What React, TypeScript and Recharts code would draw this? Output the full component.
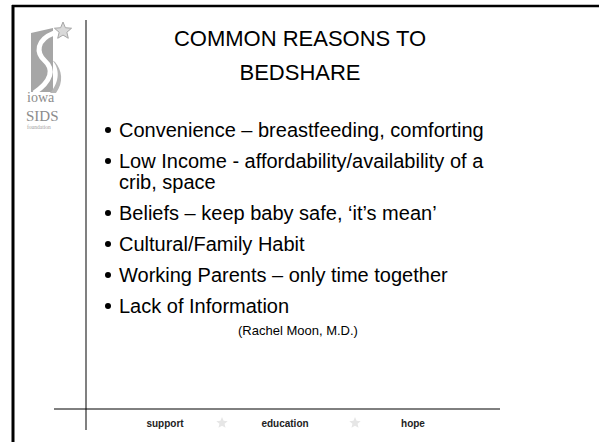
import React from 'react';
import { ScatterChart, Scatter, XAxis, YAxis, Customized } from 'recharts';

// slide content
const titleLines = ['COMMON REASONS TO', 'BEDSHARE'];
const bulletItems = [
  ['Convenience – breastfeeding, comforting'],
  ['Low Income - affordability/availability of a', 'crib, space'],
  ['Beliefs – keep baby safe, ‘it’s mean’'],
  ['Cultural/Family Habit'],
  ['Working Parents – only time together'],
  ['Lack of Information'],
];
const citation = '(Rachel Moon, M.D.)';
const footerWords = ['support', 'education', 'hope'];
const logoWords = ['iowa', 'SIDS', 'foundation'];

const W = 599;
const H = 442;
const FONT = '"Liberation Sans", Arial, Helvetica, sans-serif';
const SERIF = '"Liberation Serif", "DejaVu Serif", serif';

const FIRST_BASELINE = 137;
const ITEM_GAP = 31;
const WRAP_GAP = 21;
const BULLET_X = 108;

// one point per bullet, stacked down the slide
const bulletData = (() => {
  let y = FIRST_BASELINE;
  return bulletItems.map((lines, i) => {
    const row = { x: BULLET_X, y, lines, i };
    y += ITEM_GAP + (lines.length - 1) * WRAP_GAP;
    return row;
  });
})();
const lastRow = bulletData[bulletData.length - 1];

const BulletShape = (props: any) => {
  const { cx, cy, payload } = props;
  return (
    <g>
      <circle cx={cx} cy={cy - 7} r={3} fill="#000" />
      {payload.lines.map((t: string, k: number) => (
        <text key={k} x={cx + 11} y={cy + k * WRAP_GAP} fontSize={20} fontFamily={FONT} fill="#000">
          {t}
        </text>
      ))}
    </g>
  );
};

const Star = ({ cx, cy, r, fill, stroke }: any) => {
  const pts: string[] = [];
  for (let k = 0; k < 10; k++) {
    const rad = k % 2 === 0 ? r : r * 0.45;
    const a = -Math.PI / 2 + (k * Math.PI) / 5;
    pts.push(`${cx + rad * Math.cos(a)},${cy + rad * Math.sin(a)}`);
  }
  return <polygon points={pts.join(' ')} fill={fill} stroke={stroke} strokeWidth={1} />;
};

const SlideDecor = () => (
  <g>
    {/* frame */}
    <line x1={12} y1={6} x2={W} y2={6} stroke="#000" strokeWidth={2.5} />
    <line x1={13} y1={5} x2={13} y2={H} stroke="#000" strokeWidth={3} />
    <line x1={86} y1={20} x2={86} y2={430} stroke="#808080" strokeWidth={2} />
    <line x1={54} y1={409} x2={500} y2={409} stroke="#000" strokeWidth={1} />

    {/* logo */}
    <path d="M31,33 L53,28 L53,92 L31,92 Z" fill="#a6a6a6" />
    <path d="M54,33 C36,40 36,53 45,61 C54,69 52,81 34,93" fill="none" stroke="#fff" strokeWidth={5} />
    <path d="M52,60 C60,68 60,82 50,93 L56,93 C64,82 62,70 55,62 Z" fill="#b5b5b5" />
    <Star cx={63} cy={31} r={9} fill="#d9d9d9" stroke="#a6a6a6" />
    <text x={27} y={102} fontSize={14} fontFamily={SERIF} fill="#8c8c8c">{logoWords[0]}</text>
    <text x={26} y={121} fontSize={15} fontFamily={SERIF} fill="#8c8c8c">{logoWords[1]}</text>
    <text x={27} y={129} fontSize={5.5} fontFamily={SERIF} fill="#a0a0a0">{logoWords[2]}</text>

    {/* title */}
    {titleLines.map((t, k) => (
      <text key={k} x={300} y={46 + k * 34} textAnchor="middle" fontSize={22} fontFamily={FONT} fill="#000">
        {t}
      </text>
    ))}

    <text x={298} y={lastRow.y + 22} textAnchor="middle" fontSize={13} fontFamily={FONT} fill="#000">
      {citation}
    </text>

    {/* footer */}
    {footerWords.map((t, k) => (
      <text key={t} x={[165, 285, 413][k]} y={427} textAnchor="middle" fontSize={10} fontWeight="bold" fontFamily={FONT} fill="#222">
        {t}
      </text>
    ))}
    <Star cx={222} cy={423} r={6} fill="#e6e6e6" stroke="none" />
    <Star cx={355} cy={423} r={6} fill="#e6e6e6" stroke="none" />
  </g>
);

export default function App() {
  if (typeof document !== 'undefined') document.body.style.margin = '0';
  return (
    <div style={{ width: W, height: H, background: '#fff' }}>
      <ScatterChart width={W} height={H} margin={{ top: 0, right: 0, bottom: 0, left: 0 }}>
        <XAxis type="number" dataKey="x" domain={[0, W]} hide />
        <YAxis type="number" dataKey="y" domain={[0, H]} reversed hide />
        <Customized component={SlideDecor} />
        <Scatter data={bulletData} shape={BulletShape} isAnimationActive={false} />
      </ScatterChart>
    </div>
  );
}
